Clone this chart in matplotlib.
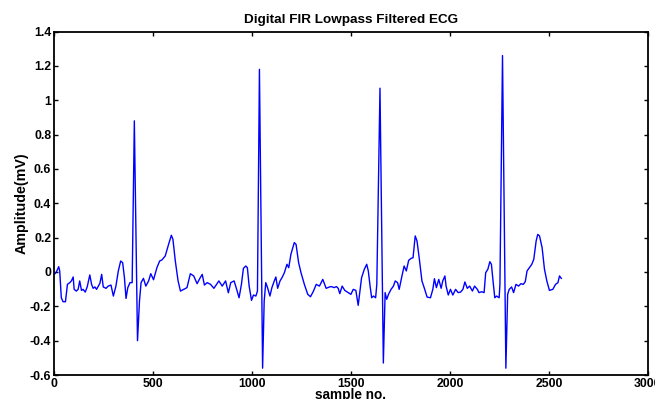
import matplotlib
matplotlib.use("Agg")
import matplotlib.pyplot as plt
import numpy as np

# traced ECG samples (sample index, amplitude in mV)
sample = [5, 12, 24, 29, 37, 46, 58, 68, 80, 88, 97, 102, 113, 122, 130, 139, 147, 158, 168,
          181, 190, 198, 207, 215, 232, 241, 249, 263, 274, 288, 300, 313, 325, 337, 347, 356,
          364, 373, 384, 395, 406, 422, 432, 440, 452, 464, 478, 489, 503, 520, 534, 545, 562,
          579, 593, 601, 613, 627, 639, 655, 672, 689, 706, 723, 737, 749, 760, 774, 791, 808,
          833, 850, 867, 881, 893, 910, 923, 935, 947, 957, 969, 977, 986, 998, 1008, 1020,
          1028, 1038, 1054, 1062, 1070, 1079, 1091, 1101, 1113, 1121, 1130, 1142, 1152, 1164,
          1177, 1186, 1197, 1214, 1223, 1236, 1248, 1265, 1282, 1296, 1311, 1325, 1341, 1358,
          1375, 1392, 1402, 1415, 1427, 1436, 1444, 1456, 1469, 1486, 1500, 1512, 1525, 1537,
          1546, 1554, 1568, 1580, 1588, 1597, 1605, 1614, 1625, 1631, 1647, 1664, 1673, 1681,
          1690, 1703, 1715, 1724, 1736, 1744, 1758, 1769, 1780, 1792, 1805, 1814, 1825, 1834,
          1846, 1859, 1873, 1885, 1902, 1914, 1922, 1932, 1944, 1956, 1964, 1975, 1981, 1992,
          2003, 2015, 2029, 2042, 2054, 2066, 2076, 2088, 2100, 2114, 2125, 2139, 2147, 2161,
          2173, 2181, 2192, 2202, 2210, 2219, 2227, 2236, 2249, 2253, 2266, 2283, 2292, 2300,
          2312, 2322, 2334, 2347, 2359, 2371, 2381, 2390, 2402, 2414, 2424, 2436, 2444, 2453,
          2466, 2478, 2490, 2503, 2520, 2534, 2546, 2554, 2563]
amplitude = [-0.01, 0.00, 0.031, 0.006, -0.150, -0.173, -0.173, -0.072, -0.062, -0.052, -0.029,
             -0.101, -0.111, -0.101, -0.052, -0.107, -0.101, -0.117, -0.086, -0.017, -0.072,
             -0.095, -0.087, -0.101, -0.066, -0.014, -0.087, -0.095, -0.082, -0.076, -0.140,
             -0.082, 0.006, 0.064, 0.054, -0.033, -0.154, -0.091, -0.062, -0.062, 0.88, -0.40,
             -0.169, -0.062, -0.037, -0.082, -0.052, -0.010, -0.045, 0.025, 0.064, 0.070, 0.093,
             0.161, 0.214, 0.190, 0.064, -0.052, -0.111, -0.101, -0.091, -0.010, -0.023, -0.068,
             -0.037, -0.014, -0.076, -0.062, -0.072, -0.095, -0.052, -0.082, -0.052, -0.121,
             -0.062, -0.052, -0.101, -0.150, -0.072, 0.021, 0.035, 0.025, -0.082, -0.165,
             -0.134, -0.140, -0.111, 1.18, -0.56, -0.169, -0.062, -0.091, -0.140, -0.091, -0.052,
             -0.029, -0.095, -0.052, -0.033, -0.004, 0.045, 0.025, 0.103, 0.171, 0.161, 0.054,
             -0.004, -0.072, -0.130, -0.144, -0.111, -0.072, -0.082, -0.043, -0.095, -0.087,
             -0.085, -0.091, -0.085, -0.095, -0.126, -0.082, -0.107, -0.120, -0.130, -0.101,
             -0.107, -0.194, -0.111, -0.033, 0.016, 0.045, 0.006, -0.082, -0.150, -0.140, -0.150,
             -0.072, 1.07, -0.53, -0.120, -0.159, -0.130, -0.101, -0.082, -0.052, -0.062, -0.101,
             -0.023, 0.035, 0.006, 0.068, 0.080, 0.083, 0.210, 0.181, 0.074, -0.052, -0.101,
             -0.146, -0.150, -0.101, -0.039, -0.091, -0.043, -0.095, -0.052, -0.023, -0.082,
             -0.134, -0.101, -0.134, -0.101, -0.120, -0.117, -0.101, -0.058, -0.095, -0.082,
             -0.111, -0.082, -0.101, -0.120, -0.115, -0.120, -0.004, 0.016, 0.060, 0.045, -0.062,
             -0.150, -0.140, -0.150, -0.072, 1.26, -0.56, -0.130, -0.101, -0.087, -0.120, -0.072,
             -0.082, -0.068, -0.072, -0.056, 0.006, 0.025, 0.045, 0.074, 0.181, 0.219, 0.210,
             0.142, 0.016, -0.052, -0.107, -0.101, -0.072, -0.062, -0.023, -0.037]

xticks = [0, 500, 1000, 1500, 2000, 2500, 3000]
yticks = [-0.6, -0.4, -0.2, 0, 0.2, 0.4, 0.6, 0.8, 1, 1.2, 1.4]
ytick_labels = ['-0.6', '-0.4', '-0.2', '0', '0.2', '0.4', '0.6', '0.8', '1', '1.2', '1.4']

plt.rcParams['font.family'] = ['Liberation Sans', 'DejaVu Sans']
plt.rcParams['font.weight'] = 'bold'

fig = plt.figure(figsize=(6.55, 3.99), dpi=100, facecolor='white')
ax = fig.add_axes([0.0824, 0.060, 0.9066, 0.861])

ax.plot(sample, amplitude, color='#0000ff', linewidth=1.0)

ax.set_xlim(0, 3000)
ax.set_ylim(-0.6, 1.4)
ax.set_xticks(xticks)
ax.set_yticks(yticks)
ax.set_yticklabels(ytick_labels)
ax.tick_params(direction='in', length=3, width=1, top=True, right=True,
               labelsize=8.8, pad=2)
for lab in ax.get_xticklabels() + ax.get_yticklabels():
    lab.set_fontweight('bold')
for s in ax.spines.values():
    s.set_linewidth(1.3)

ax.set_title('Digital FIR Lowpass Filtered ECG', fontsize=9.7, fontweight='bold', pad=6)
ax.set_xlabel('sample no.', fontsize=9.8, fontweight='bold', labelpad=-1)
ax.set_ylabel('Amplitude(mV)', fontsize=10.3, fontweight='bold', labelpad=1)

fig.savefig('out.png', dpi=100, facecolor='white')
